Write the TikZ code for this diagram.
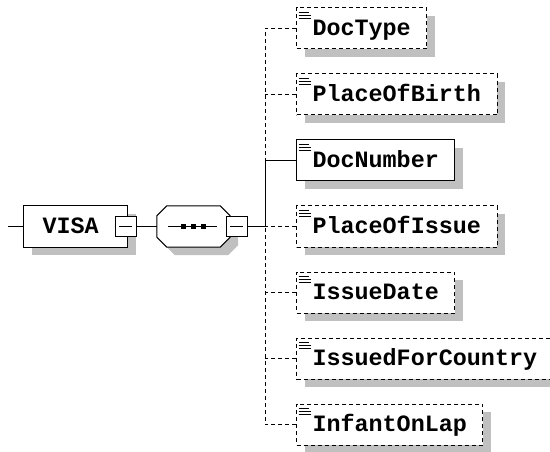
\documentclass[tikz,border=0pt]{standalone}
\usepackage{fontspec}
\setmonofont{Liberation Mono}
\usetikzlibrary{positioning, shadows}
\definecolor{color_line}{HTML}{000000}
\definecolor{color_shadow}{HTML}{C0C0C0}
\tikzset{
  box_shadow/.style={drop shadow={shadow xshift=8pt, shadow yshift=-8pt, fill=color_shadow, opacity=1}},
  element_box/.style={draw=color_line, line width=1pt, fill=white, box_shadow, font=\ttfamily\bfseries\fontsize{23.4}{28}\selectfont, text=color_line, minimum height=41pt, inner xsep=16pt, inner ysep=0pt, text height=13.4pt, text depth=0pt},
  leaf_box/.style={element_box, path picture={
      \draw[solid, line width=1pt] ([xshift=2pt, yshift=-4.5pt]path picture bounding box.north west) -- ++(10pt,0pt)
        ([xshift=2pt, yshift=-7.5pt]path picture bounding box.north west) -- ++(12pt,0pt)
        ([xshift=2pt, yshift=-10.5pt]path picture bounding box.north west) -- ++(12pt,0pt);}},
  optional_box/.style={leaf_box, dash pattern=on 4pt off 3pt},
  minus_box/.style={draw=color_line, line width=1pt, fill=white, minimum width=21pt, minimum height=20pt, inner sep=0pt, path picture={
      \draw[line width=1pt] ([xshift=4pt]path picture bounding box.west) -- ([xshift=-4pt]path picture bounding box.east);}},
  seq_box/.style={minimum width=73pt, minimum height=41pt, inner sep=0pt},
  seq_outline/.style={draw=color_line, line width=1pt, fill=white, box_shadow},
  seq_dot/.style={fill=color_line, minimum size=5pt, inner sep=0pt},
  required_link/.style={draw=color_line, line width=1pt},
  optional_link/.style={required_link, dash pattern=on 4pt off 3pt},
}

\begin{document}
\begin{tikzpicture}[x=1pt, y=-1pt]
    \useasboundingbox (0,0) rectangle (550,452);
    \clip (0,0) rectangle (550,452);

    \coordinate (root_in) at (8, 226.5);
    \coordinate (spine) at (265, 226.5);

    \node[element_box, anchor=west, text width=66pt, align=left, inner xsep=19pt] (visa) at (23, 226.5) {VISA};
    \node[minus_box] (visa_minus) at (125.5, 226.5) {};

    \node[seq_box] (seq) at (193.5, 226.5) {};
    \path[seq_outline] ([yshift=-10pt]seq.north west) -- ([xshift=10pt]seq.north west) -- ([xshift=-10pt]seq.north east)
      -- ([yshift=-10pt]seq.north east) -- ([yshift=10pt]seq.south east) -- ([xshift=-10pt]seq.south east)
      -- ([xshift=10pt]seq.south west) -- ([yshift=10pt]seq.south west) -- cycle;
    \node[seq_dot] (seq_dot_a) at (183.5, 226.5) {};
    \node[seq_dot] (seq_dot_b) at (193.5, 226.5) {};
    \node[seq_dot] (seq_dot_c) at (203.5, 226.5) {};
    \draw[required_link] ([xshift=11pt]seq.west) -- (seq_dot_a) -- (seq_dot_c) -- ([xshift=-13pt]seq.east);
    \node[minus_box] (seq_minus) at (236.5, 226.5) {};

    \node[optional_box, anchor=west] (doc_type)           at (296, 28.5)  {DocType};
    \node[optional_box, anchor=west] (place_of_birth)     at (296, 94.5)  {PlaceOfBirth};
    \node[leaf_box, anchor=west]     (doc_number)         at (296, 160.5) {DocNumber};
    \node[optional_box, anchor=west] (place_of_issue)     at (296, 226.5) {PlaceOfIssue};
    \node[optional_box, anchor=west] (issue_date)         at (296, 292.5) {IssueDate};
    \node[optional_box, anchor=west] (issued_for_country) at (296, 358.5) {IssuedForCountry};
    \node[optional_box, anchor=west] (infant_on_lap)      at (296, 424.5) {InfantOnLap};

    \draw[required_link] (root_in) -- (visa.west);
    \draw[required_link] (visa_minus.east) -- ([xshift=-36.5pt]seq.center);
    \draw[required_link] (seq_minus.east) -- (spine);
    \draw[required_link] (doc_number.west) -| (spine);
    \draw[optional_link] (doc_type.west) -| (doc_number.west -| spine);
    \draw[optional_link] (place_of_birth.west) -- (place_of_birth.west -| spine);
    \draw[optional_link] (place_of_issue.west) -- (spine);
    \draw[optional_link] (issue_date.west) -- (issue_date.west -| spine);
    \draw[optional_link] (issued_for_country.west) -- (issued_for_country.west -| spine);
    \draw[optional_link] (infant_on_lap.west) -| (spine);
  \end{tikzpicture}
\end{document}
